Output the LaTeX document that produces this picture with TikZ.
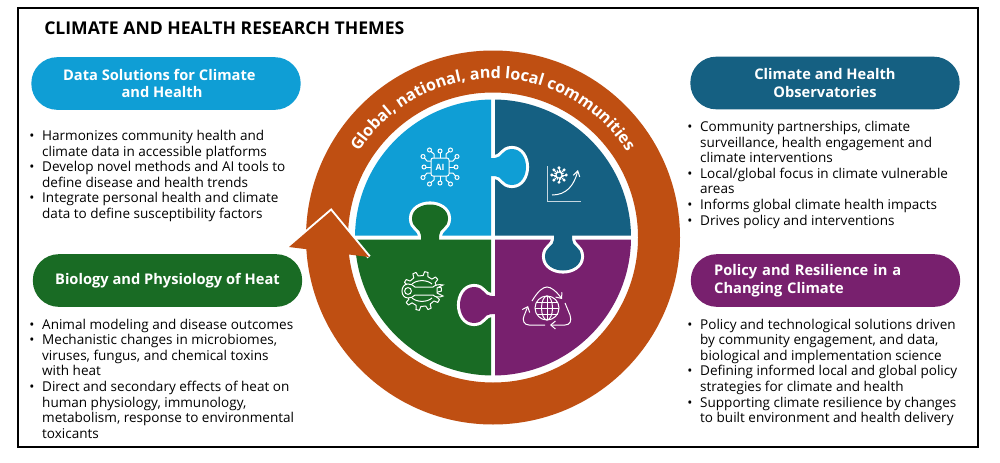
\documentclass[tikz,border=0pt]{standalone}
\usepackage{fontspec}
\setmainfont{Open Sans}
\usetikzlibrary{decorations.text,arrows.meta}
\definecolor{skyblue}{HTML}{0F9ED5}
\definecolor{deepblue}{HTML}{156082}
\definecolor{leafgreen}{HTML}{196B24}
\definecolor{plum}{HTML}{78206E}
\definecolor{rust}{HTML}{BF4F12}
\newcommand{\itm}{\makebox[9.7pt][l]{\textbullet}}
\newcommand{\cnt}{\hspace*{9.7pt}}
\newcommand{\puzzletab}[4]{%
\begin{scope}[shift={(#1,#2)},rotate=#3]
\draw[white,line width=4.6pt] (2,-9) .. controls (9,-9) and (9,-18) .. (19,-18) .. controls (28,-18) and (33,-9) .. (33,0) .. controls (33,9) and (28,18) .. (19,18) .. controls (9,18) and (9,9) .. (2,9);
\fill[#4] (-3,-9) -- (2,-9) .. controls (9,-9) and (9,-18) .. (19,-18) .. controls (28,-18) and (33,-9) .. (33,0) .. controls (33,9) and (28,18) .. (19,18) .. controls (9,18) and (9,9) .. (2,9) -- (-3,9) -- cycle;
\end{scope}}
\begin{document}
\begin{tikzpicture}[x=0.75pt,y=0.75pt]
\tikzstyle{pill} = [rounded corners=19.5pt,minimum width=202pt,minimum height=39.5pt,inner sep=0pt,text=white,font=\fontsize{11}{13.4}\selectfont\bfseries,align=center]
\tikzstyle{themelist} = [anchor=north west,inner sep=0pt,align=left,font=\fontsize{10.15}{11.7}\selectfont]
\tikzstyle{icon} = [white,line width=0.75pt]
\def\cx{493}
\def\cy{224.5}

\useasboundingbox (0,0) rectangle (1000,462);
\fill[white] (0,0) rectangle (1000,462);
\draw[black,line width=1.1pt] (18,15) rectangle (978,454);
\node (title) at (44,434) [anchor=west,inner sep=0pt,font=\fontsize{13.2}{15}\selectfont\bfseries] {CLIMATE AND HEALTH RESEARCH THEMES};

\node (datapill) at (166,378.5) [pill,fill=skyblue] {\hspace*{-10pt}Data Solutions for Climate\\\hspace*{-6pt}and Health};
\node (obspill) at (825,379) [pill,fill=deepblue] {Climate and Health\\Observatories};
\node (biopill) at (167.5,181.5) [pill,fill=leafgreen] {Biology and Physiology of Heat};
\node (policypill) at (825.5,181.5) [pill,fill=plum,align=left,text width=167pt] {Policy and Resilience in a\\Changing Climate};

\node (datalist) at (29,332) [themelist] {\itm Harmonizes community health and\\\cnt climate data in accessible platforms\\\itm Develop novel methods and AI tools to\\\cnt define disease and health trends\\\itm Integrate personal health and climate\\\cnt data to define susceptibility factors};
\node (biolist) at (29,143.5) [themelist] {\itm Animal modeling and disease outcomes\\\itm Mechanistic changes in microbiomes,\\\cnt viruses, fungus, and chemical toxins\\\cnt with heat\\\itm Direct and secondary effects of heat on\\\cnt human physiology, immunology,\\\cnt metabolism, response to environmental\\\cnt toxicants};
\node (obslist) at (687,341) [themelist] {\itm Community partnerships, climate\\\cnt surveillance, health engagement and\\\cnt climate interventions\\\itm Local/global focus in climate vulnerable\\\cnt areas\\\itm Informs global climate health impacts\\\itm Drives policy and interventions};
\node (policylist) at (687,143.5) [themelist] {\itm Policy and technological solutions driven\\\cnt by community engagement, and data,\\\cnt biological and implementation science\\\itm Defining informed local and global policy\\\cnt strategies for climate and health\\\itm Supporting climate resilience by changes\\\cnt to built environment and health delivery};

\fill[rust,even odd rule] (\cx,\cy) circle (187) (\cx,\cy) circle (145);

\path[decorate,decoration={text along path,text align=center,text={|\fontsize{12.1}{14}\selectfont\bfseries\color{white}|Global, national, and local communities}}] (\cx,\cy) ++(150:159) arc[start angle=150,end angle=30,radius=159];

\begin{scope}[shift={(\cx,\cy)}]
\foreach \q/\col in {0/deepblue,90/skyblue,180/leafgreen,270/plum}
  \fill[\col,rotate=\q] (2,2) -- (0.83:138) arc[start angle=0.83,end angle=89.17,radius=138] -- cycle;
\puzzletab{0}{70.5}{0}{skyblue}
\puzzletab{-63}{0}{90}{leafgreen}
\puzzletab{70}{0}{270}{deepblue}
\puzzletab{0}{-67.5}{180}{plum}
\end{scope}

\draw[white,line width=3pt,miter limit=10] (289,215) -- (331,251) -- (369,205);
\fill[rust] (289,215) -- (331,251) -- (369,205) -- cycle;

\begin{scope}[shift={(440,295)},icon]
\draw[rounded corners=1.5pt] (-9,-9) rectangle (9,9);
\node (aitext) at (0,0) [inner sep=0pt,text=white,font=\fontsize{6.5}{7}\selectfont\bfseries] {AI};
\foreach \a in {0,90,180,270} {
  \begin{scope}[rotate=\a]
  \draw (9,0) -- (14,0);
  \draw (16,0) circle (2);
  \draw (9,6) -- (13,6) -- (15.5,9);
  \draw (17,10.5) circle (2);
  \draw (9,-6) -- (13,-6) -- (15.5,-9);
  \draw (17,-10.5) circle (2);
  \end{scope}}
\end{scope}

\draw[icon,white!75!deepblue] (547,296) -- (547,261) -- (581,261);
\draw[icon,-{Straight Barb[length=4pt,width=5pt]}] (552,267) .. controls (566,267) and (574,276) .. (578,292);
\begin{scope}[shift={(559,287)},icon]
\draw (0,0) circle (3);
\foreach \a in {0,45,...,315} {
  \draw (\a:3) -- (\a:6.5);
  \draw (\a:7.2) circle (1);
  \draw (\a+22:3) -- (\a+22:5);
}
\end{scope}

\begin{scope}[shift={(422,171)},icon]
\draw[line join=round] (4:19.5) \foreach \a in {0,36,...,324} {-- (\a+10:19.5) -- (\a+14:15.5) -- (\a+32:15.5) -- (\a+36:19.5)} -- cycle;
\draw (-10,7) .. controls (-5,11.5) and (5,11.5) .. (10,7);
\draw (-10,-7) .. controls (-5,-11.5) and (5,-11.5) .. (10,-7);
\draw[fill=leafgreen] (-14,7) .. controls (-11,7) and (-9,6) .. (-7,4) -- (11,4) .. controls (13,6) and (17,7) .. (21,6) -- (15,3) -- (15,-2) -- (21,-5) .. controls (17,-7) and (13,-6) .. (11,-4) -- (-7,-4) .. controls (-9,-6) and (-11,-7) .. (-14,-7) .. controls (-22,-7) and (-22,7) .. (-14,7) -- cycle;
\draw (-14,0) circle (3.4);
\end{scope}

\begin{scope}[shift={(547,154)},icon]
\draw (0,0) circle (12);
\draw (0,0) ellipse (5.5 and 12);
\draw (0,-12) -- (0,12);
\draw (-12,0) -- (12,0);
\draw (-10.5,6) -- (10.5,6);
\draw (-10.5,-6) -- (10.5,-6);
\tikzstyle{barb} = [-{Straight Barb[length=3.5pt,width=6pt]}]
\draw[barb] (-15,7) .. controls (-9,17) and (-4,21) .. (0,21) .. controls (4,21) and (9,17) .. (15,9);
\draw[barb] (18,5) -- (23,-7) .. controls (25,-13) and (23,-17) .. (18,-17) -- (3,-17);
\draw[barb] (-2,-17) -- (-18,-17) .. controls (-23,-17) and (-25,-12) .. (-23,-8) -- (-19,2);
\end{scope}
\end{tikzpicture}
\end{document}
